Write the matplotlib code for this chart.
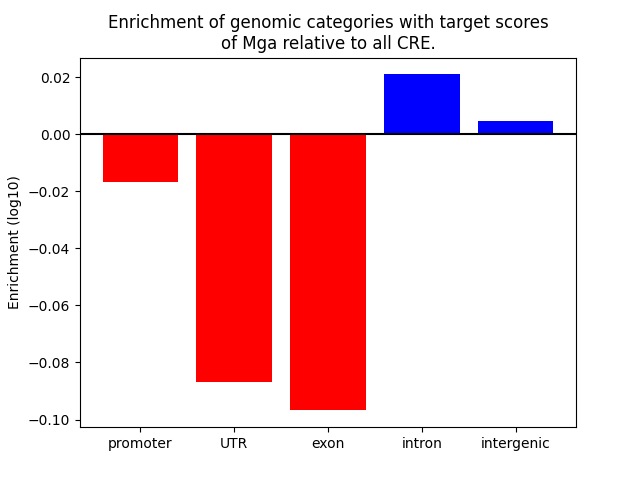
import matplotlib
matplotlib.use("Agg")
import matplotlib.pyplot as plt

categories = ["promoter", "UTR", "exon", "intron", "intergenic"]
values = [-0.0166, -0.0867, -0.0968, 0.0210, 0.0046]
colors = ["red" if v < 0 else "blue" for v in values]

fig, ax = plt.subplots(figsize=(6.4, 4.8), dpi=100)
ax.bar(categories, values, color=colors)
ax.axhline(0, color="black")
ax.set_ylabel("Enrichment (log10)")
ax.set_title("Enrichment of genomic categories with target scores\nof Mga relative to all CRE.")
fig.savefig("out.png")
